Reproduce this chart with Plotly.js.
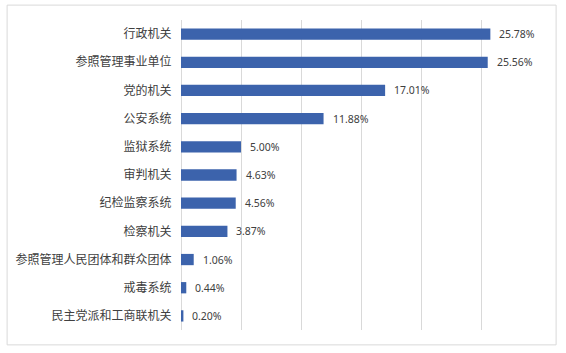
<!DOCTYPE html>
<html><head><meta charset="utf-8">
<script src="https://cdn.plot.ly/plotly-3.0.1.min.js"></script>
<style>html,body{margin:0;padding:0;background:#fff}#c{width:566px;height:353px}</style>
</head><body><div id="c"></div>
<script>
const categories = ['行政机关','参照管理事业单位','党的机关','公安系统','监狱系统','审判机关','纪检监察系统','检察机关','参照管理人民团体和群众团体','戒毒系统','民主党派和工商联机关'];
const values = [25.78, 25.56, 17.01, 11.88, 5.00, 4.63, 4.56, 3.87, 1.06, 0.44, 0.20];
const labels = values.map(v => v.toFixed(2) + '%');

const font = '"Noto Sans CJK SC", "Noto Sans", sans-serif';
const trace = {
  type: 'bar', orientation: 'h',
  y: categories, x: values,
  marker: {color: '#3C63AC'},
  hoverinfo: 'none'
};
const annotations = values.map((v, i) => ({
  x: v, y: categories[i], xref: 'x', yref: 'y',
  text: labels[i], showarrow: false, xanchor: 'left', yanchor: 'middle',
  xshift: 7, font: {family: '"Noto Sans", sans-serif', size: 10.5, color: '#404040'}
}));
const layout = {
  width: 566, height: 353,
  margin: {l: 181, r: 25, t: 20, b: 23},
  paper_bgcolor: '#fff', plot_bgcolor: '#fff',
  bargap: 0.6, showlegend: false,
  xaxis: {range: [0, 30], dtick: 5, showticklabels: false, showgrid: true, gridcolor: '#d9d9d9', gridwidth: 1, zeroline: true, zerolinecolor: '#d9d9d9', zerolinewidth: 1, fixedrange: true},
  yaxis: {autorange: 'reversed', ticks: 'outside', ticklen: 6, tickcolor: 'rgba(0,0,0,0)', tickfont: {family: font, size: 12, color: '#404040'}, showgrid: false, zeroline: false, fixedrange: true},
  annotations: annotations,
  shapes: [{type: 'rect', xref: 'paper', yref: 'paper', x0: -0.483, x1: 1.042, y0: -0.048, y1: 1.048, line: {color: '#d9d9d9', width: 1}}]
};
Plotly.newPlot('c', [trace], layout, {displayModeBar: false, staticPlot: true});
</script></body></html>
